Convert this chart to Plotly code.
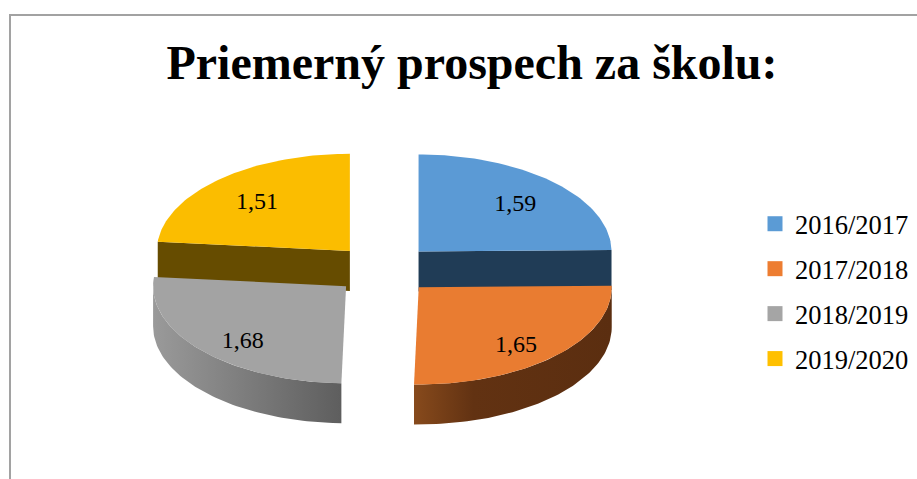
import numpy as np
import plotly.graph_objects as go

seasons = ["2016/2017", "2017/2018", "2018/2019", "2019/2020"]
values = [1.59, 1.65, 1.68, 1.51]
value_labels = ["1,59", "1,65", "1,68", "1,51"]
title_text = "Priemerný prospech za školu:"

face_colors = ["#5b9ad5", "#e97c31", "#a3a3a3", "#fbbd00"]
legend_colors = ["#5b9bd5", "#ed7d31", "#a5a5a5", "#ffc000"]
cut_colors = ["#203c56", None, None, "#664c00"]
rim_gradients = [
    None,
    [[0, "#874a1c"], [0.3, "#623212"], [1, "#5b2e10"]],
    [[0, "#9a9a9a"], [1, "#5e5e5e"]],
    None,
]

W, H = 917, 479
CX, CY, RX = 383.5, 269.5, 193.0     # pie centre and radius in page pixels
TILT = 0.503                         # vertical squash of the pie
DEPTH = 40.0 / RX                    # thickness of the pie
EXPLODE = 50.0 / RX                  # how far the slices are pulled out
FONT = "Liberation Serif"

frac = np.array(values) / np.sum(values)
ends = np.cumsum(frac) * 2 * np.pi
starts = ends - frac * 2 * np.pi
mids = (starts + ends) / 2
dx = EXPLODE * np.sin(mids)
dy = EXPLODE * TILT * np.cos(mids)


def rim(i, a0, a1):
    a = np.linspace(a0, a1, 70)
    return dx[i] + np.sin(a), dy[i] + TILT * np.cos(a)


def polygon(name, x, y, color=None, gradient=None):
    kw = dict(fillgradient=dict(type="horizontal", colorscale=gradient)) if gradient else dict(fillcolor=color)
    return go.Scatter(x=x, y=y, mode="lines", fill="toself", line=dict(width=0),
                      hoverinfo="skip", showlegend=False, name=name, **kw)


fig = go.Figure()

for i in [3, 0, 2, 1]:
    ax, ay = rim(i, starts[i], ends[i])
    if cut_colors[i]:
        a = starts[i] if i == 3 else ends[i]
        ex = dx[i] + np.sin(a)
        ey = dy[i] + TILT * np.cos(a)
        fig.add_trace(polygon(seasons[i] + " cut",
                              [dx[i], ex, ex, dx[i], dx[i]],
                              [dy[i], ey, ey - DEPTH, dy[i] - DEPTH, dy[i]],
                              color=cut_colors[i]))
    if rim_gradients[i]:
        a0 = max(starts[i], np.pi / 2)
        a1 = min(ends[i], 3 * np.pi / 2)
        sx, sy = rim(i, a0, a1)
        fig.add_trace(polygon(seasons[i] + " rim",
                              np.r_[sx, sx[::-1], sx[0]],
                              np.r_[sy, sy[::-1] - DEPTH, sy[0]],
                              gradient=rim_gradients[i]))
    fig.add_trace(polygon(seasons[i] + " top",
                          np.r_[dx[i], ax, dx[i]],
                          np.r_[dy[i], ay, dy[i]],
                          color=face_colors[i]))

# data labels
label_x = dx + 0.715 * np.sin(mids)
label_y = dy + 0.72 * TILT * np.cos(mids) - (6.5 - 4.2 * np.cos(mids)) / RX
fig.add_trace(go.Scatter(x=label_x, y=label_y, mode="text", text=value_labels,
                         textposition="middle center",
                         textfont=dict(family=FONT, size=24, color="#000000"),
                         hoverinfo="skip", showlegend=False))

# legend entries
for s, c in zip(seasons, legend_colors):
    fig.add_trace(go.Scatter(x=[None], y=[None], mode="markers", name=s, legendgroup=s,
                             marker=dict(symbol="square", size=15, color=c)))

fig.update_layout(
    width=W, height=H,
    margin=dict(l=0, r=0, t=0, b=0),
    paper_bgcolor="#ffffff", plot_bgcolor="#ffffff",
    xaxis=dict(visible=False, range=[-CX / RX, (W - CX) / RX], domain=[0, 1], fixedrange=True),
    yaxis=dict(visible=False, range=[-(H - CY) / RX, CY / RX], domain=[0, 1], fixedrange=True),
    title=dict(text=title_text, x=472 / W, xref="paper", xanchor="center",
               y=1 - 62 / H, yref="paper", yanchor="middle",
               font=dict(family=FONT, size=48, color="#000000", weight="bold")),
    legend=dict(x=755 / W, xanchor="left", y=1 - 200 / H, yanchor="top",
                font=dict(family=FONT, size=26.5, color="#000000"),
                bgcolor="rgba(0,0,0,0)", tracegroupgap=7.5, itemsizing="trace",
                itemwidth=30, itemclick=False, itemdoubleclick=False),
    shapes=[dict(type="path", xref="paper", yref="paper",
                 path=f"M {10/W} 0 L {10/W} {1-15/H} L 1 {1-15/H}",
                 line=dict(color="#a2a2a2", width=2))],
)

fig.write_html("out.html", config={"displayModeBar": False},
               post_script="document.body.style.margin='0';document.body.style.overflow='hidden';")
